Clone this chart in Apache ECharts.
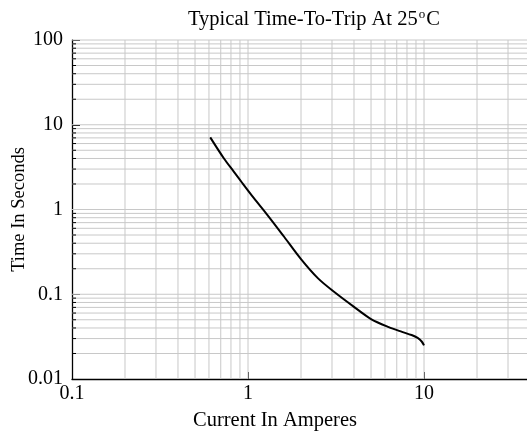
<!DOCTYPE html>
<html>
<head>
<meta charset="utf-8">
<script src="https://cdn.jsdelivr.net/npm/echarts@6/dist/echarts.min.js"></script>
<style>html,body{margin:0;padding:0;background:#fff;}#c{width:527px;height:434px;}</style>
</head>
<body>
<div id="c"></div>
<script>
// Data
const currentAmps = [0.61, 0.73, 0.83, 0.93, 1.08, 1.29, 1.6, 2.0, 2.5, 3.08, 4.0, 5.0, 6.3, 7.5, 8.5, 9.2, 9.7, 10];
const timeSeconds = [7.1, 4.0, 2.8, 2.04, 1.36, 0.86, 0.48, 0.26, 0.154, 0.107, 0.071, 0.051, 0.041, 0.036, 0.033, 0.0305, 0.0277, 0.0249];
const xTickLabels = ['0.1', '1', '10'];
const yTickLabels = ['0.01', '0.1', '1', '10', '100'];
const xGridValues = [0.2,0.3,0.4,0.5,0.6,0.7,0.8,0.9,1,2,3,4,5,6,7,8,9,10,20,30,40];
const yGridValues = [0.02,0.03,0.04,0.05,0.06,0.07,0.08,0.09,0.1,0.2,0.3,0.4,0.5,0.6,0.7,0.8,0.9,1,2,3,4,5,6,7,8,9,10,20,30,40,50,60,70,80,90,100];
const yMinorTicks = [0.02,0.03,0.04,0.05,0.06,0.07,0.08,0.09,0.2,0.3,0.4,0.5,0.6,0.7,0.8,0.9,2,3,4,5,6,7,8,9,20,30,40,50,60,70,80,90];

const X_MIN = 0.1, X_MAX = 40, Y_MIN = 0.01, Y_MAX = 100;
const FONT = '"Liberation Serif", "Times New Roman", serif';

function fmt(list) {
  return function (v) {
    const s = String(+v.toPrecision(6));
    return list.indexOf(s) >= 0 ? s : '';
  };
}

const chart = echarts.init(document.getElementById('c'));
chart.setOption({
  animation: false,
  backgroundColor: '#fff',
  title: {
    text: 'Typical Time-To-Trip At 25{sup|o}C',
    left: 183, top: 3,
    textStyle: {
      fontFamily: FONT, fontSize: 20.5, fontWeight: 'normal', color: '#000',
      rich: { sup: { fontFamily: FONT, fontSize: 13, verticalAlign: 'top', color: '#000', padding: [0, 1, 10, 1] } }
    }
  },
  grid: { left: 72, top: 40, width: 458, height: 339, containLabel: false, outerBoundsMode: 'none' },
  xAxis: {
    type: 'log', logBase: 10, min: X_MIN, max: X_MAX,
    name: 'Current In Amperes', nameLocation: 'middle', nameGap: 31, nameMoveOverlap: false,
    nameTextStyle: { fontFamily: FONT, fontSize: 20.5, color: '#000', padding: [0, 52, 0, 0] },
    axisLine: { show: true, lineStyle: { color: '#000', width: 1.3 } },
    axisTick: { show: true, inside: true, length: 7, lineStyle: { color: '#000' } },
    axisLabel: { fontFamily: FONT, fontSize: 20, color: '#000', margin: 5, formatter: fmt(xTickLabels), showMaxLabel: false },
    splitLine: { show: false }
  },
  yAxis: {
    type: 'log', logBase: 10, min: Y_MIN, max: Y_MAX,
    name: 'Time In Seconds', nameLocation: 'middle', nameGap: 43, nameRotate: 90, nameMoveOverlap: false,
    nameTextStyle: { fontFamily: FONT, fontSize: 18.5, color: '#000' },
    axisLine: { show: true, lineStyle: { color: '#000', width: 1.3 } },
    axisTick: { show: true, inside: true, length: 8, lineStyle: { color: '#000' } },
    axisLabel: { fontFamily: FONT, fontSize: 20, color: '#000', margin: 9, formatter: fmt(yTickLabels) },
    splitLine: { show: false }
  },
  series: [
    {
      type: 'custom', name: 'vgrid', z: 1, silent: true, clip: false,
      data: xGridValues.map(v => [v]),
      renderItem: function (params, api) {
        const v = api.value(0);
        const a = api.coord([v, Y_MIN]);
        const b = api.coord([v, Y_MAX]);
        return { type: 'line', shape: { x1: a[0], y1: a[1], x2: b[0], y2: b[1] }, style: { stroke: '#c8c8c8', lineWidth: 1 } };
      }
    },
    {
      type: 'custom', name: 'hgrid', z: 1, silent: true, clip: false,
      data: yGridValues.map(v => [v]),
      renderItem: function (params, api) {
        const v = api.value(0);
        const a = api.coord([X_MIN, v]);
        const b = api.coord([X_MAX, v]);
        return { type: 'line', shape: { x1: a[0], y1: a[1], x2: b[0], y2: b[1] }, style: { stroke: '#c8c8c8', lineWidth: 1 } };
      }
    },
    {
      type: 'custom', name: 'yminor', z: 3, silent: true, clip: false,
      data: yMinorTicks.map(v => [v]),
      renderItem: function (params, api) {
        const a = api.coord([X_MIN, api.value(0)]);
        return { type: 'line', shape: { x1: a[0], y1: a[1], x2: a[0] + 4, y2: a[1] }, style: { stroke: '#000', lineWidth: 1 } };
      }
    },
    {
      type: 'line', name: 'Time-To-Trip', z: 4,
      data: currentAmps.map((x, i) => [x, timeSeconds[i]]),
      smooth: 0.3, showSymbol: false, symbol: 'none',
      lineStyle: { color: '#000', width: 2 }
    }
  ]
});
</script>
</body>
</html>
